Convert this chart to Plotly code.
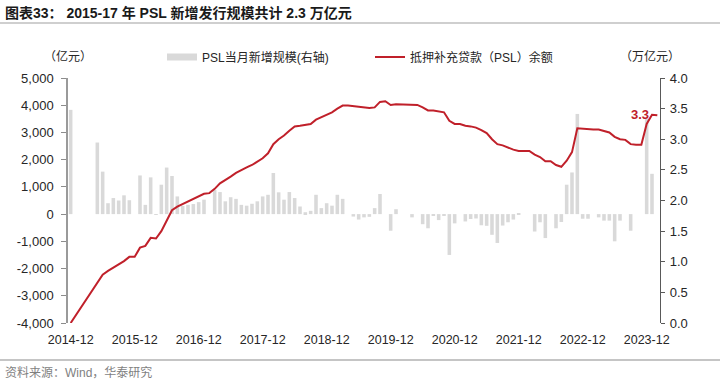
import pandas as pd
import plotly.graph_objects as go

# ---------------- data ----------------
months = [p.strftime("%Y-%m") for p in pd.period_range("2014-12", "2024-02", freq="M")]

# PSL monthly new issuance (亿元, left axis)
psl_new = [
    3830, None, None, None, None, 2630, 1560, 400, 590, 500, 690, 510,      # 2014-12 .. 2015-11
    0, 1420, 340, 1350, -20, 1080, 1710, 1400, 650, 300, 340, 370,         # 2015-12 .. 2016-11
    440, 530, 0, 890, 810, 470, 620, 560, 340, 310, 380, 470,              # 2016-12 .. 2017-11
    650, 710, 1510, 800, 530, 810, 590, 280, 70, 120, 710, 220,            # 2017-12 .. 2018-11
    400, 310, 710, 560, 0, -90, -200, -120, -100, 220, 740, 0,             # 2018-12 .. 2019-11
    -610, 180, 0, 0, -120, 0, -370, -520, -50, -220, -40, -1500,           # 2019-12 .. 2020-11
    -340, 0, -270, -180, -160, -410, -430, -760, -1060, -420, -300, -200,  # 2020-12 .. 2021-11
    40, 0, 0, -640, -300, -880, 0, -520, -290, 1080, 1530, 3680,           # 2021-12 .. 2022-11
    -170, -170, 0, -120, -240, -240, -1000, -240, 0, -610, 0, 0,           # 2022-12 .. 2023-11
    3500, 1480, 0,                                                         # 2023-12 .. 2024-02
]

# PSL outstanding balance (万亿元, right axis)
psl_balance = [
    0.00, None, None, None, None, None, 0.79, 0.85, 0.90, 0.96, 1.01, 1.08,
    1.08, 1.23, 1.26, 1.39, 1.38, 1.50, 1.67, 1.84, 1.90, 1.94, 1.98, 2.02,
    2.06, 2.11, 2.12, 2.19, 2.28, 2.33, 2.39, 2.45, 2.50, 2.54, 2.58, 2.63,
    2.69, 2.77, 2.92, 3.00, 3.06, 3.14, 3.21, 3.22, 3.23, 3.25, 3.32, 3.36,
    3.40, 3.44, 3.50, 3.55, 3.55, 3.54, 3.53, 3.52, 3.51, 3.52, 3.61, 3.62,
    3.56, 3.57, 3.57, 3.57, 3.56, 3.56, 3.52, 3.47, 3.47, 3.45, 3.44, 3.30,
    3.25, 3.25, 3.22, 3.21, 3.19, 3.15, 3.10, 3.00, 2.92, 2.90, 2.86, 2.83,
    2.81, 2.81, 2.81, 2.75, 2.71, 2.64, 2.64, 2.58, 2.55, 2.65, 2.79, 3.18,
    3.17, 3.16, 3.16, 3.16, 3.14, 3.11, 3.04, 3.00, 2.99, 2.92, 2.91, 2.91,
    3.25, 3.40, 3.39,
]

x_tick_vals = ["2014-12", "2015-12", "2016-12", "2017-12", "2018-12",
               "2019-12", "2020-12", "2021-12", "2022-12", "2023-12"]
left_tick_vals = [-4000, -3000, -2000, -1000, 0, 1000, 2000, 3000, 4000, 5000]
left_tick_text = ["-4,000", "-3,000", "-2,000", "-1,000", "0", "1,000", "2,000", "3,000", "4,000", "5,000"]
right_tick_vals = [0, 0.5, 1.0, 1.5, 2.0, 2.5, 3.0, 3.5, 4.0]
right_tick_text = ["0.0", "0.5", "1.0", "1.5", "2.0", "2.5", "3.0", "3.5", "4.0"]
# category boundaries where the year ticks sit on the zero line
year_boundaries = [-0.5, 11.5, 23.5, 35.5, 47.5, 59.5, 71.5, 83.5, 95.5, 107.5]

title_text = "图表33： 2015-17 年 PSL 新增发行规模共计 2.3 万亿元"
bar_name = "PSL当月新增规模(右轴)"
line_name = "抵押补充贷款（PSL）余额"
source_text = "资料来源：Wind，华泰研究"
last_label = "3.3"

# ---------------- style ----------------
FONT = "Liberation Sans, Arial, Noto Sans CJK SC, sans-serif"
TXT = "#262626"
BAR_C = "#d9d9d9"
LINE_C = "#c0202a"

W, H = 720, 381
PLOT_L, PLOT_R, PLOT_T, PLOT_B = 68, 660, 78, 323   # plot area in pixels


def px(p):  # pixel x -> paper x (paper = whole figure, margins are zero)
    return p / W


def py(p):  # pixel y -> paper y
    return (H - p) / H


fig = go.Figure()

fig.add_trace(go.Bar(x=months, y=psl_new, marker=dict(color=BAR_C, line=dict(width=0)),
                     showlegend=False, yaxis="y", xaxis="x"))
# legend entry for bars (wide rectangle like the original)
fig.add_trace(go.Scatter(x=[None], y=[None], mode="lines", name=bar_name,
                         line=dict(color=BAR_C, width=7), yaxis="y", xaxis="x"))
fig.add_trace(go.Scatter(x=months, y=psl_balance, mode="lines", name=line_name,
                         line=dict(color=LINE_C, width=2), connectgaps=True,
                         yaxis="y2", xaxis="x"))

x_dom = [px(PLOT_L), px(PLOT_R)]
y_dom = [py(PLOT_B), py(PLOT_T)]
zero_pos = py(PLOT_B - (PLOT_B - PLOT_T) * 4000 / 9000)

fig.update_layout(
    width=W, height=H,
    margin=dict(l=0, r=0, t=0, b=0, autoexpand=False),
    paper_bgcolor="white", plot_bgcolor="white",
    font=dict(family=FONT, color=TXT, size=12),
    bargap=0.33,
    title=dict(text="<b>" + title_text + "</b>", x=5 / W, xanchor="left",
               y=1 - 13 / H, yanchor="middle", xref="container", yref="container",
               font=dict(size=14, color="#1a1a1a", family=FONT)),
    xaxis=dict(type="category", categoryarray=months, range=[-0.5, len(months) - 0.5],
               domain=x_dom, anchor="y",
               tickvals=x_tick_vals, ticktext=x_tick_vals, ticks="", showline=False,
               showgrid=False, zeroline=False, tickfont=dict(size=12.5, color=TXT),
               ticklabelstandoff=7, automargin=False),
    xaxis2=dict(type="linear", overlaying="x", anchor="free", position=zero_pos,
                domain=x_dom,
                range=[-0.5, len(months) - 0.5], tickvals=year_boundaries,
                showticklabels=False, ticks="outside", ticklen=4, tickcolor="#404040",
                showline=True, linecolor="#404040", linewidth=1, showgrid=False,
                zeroline=False, automargin=False),
    yaxis=dict(range=[-4000, 5000], domain=y_dom, anchor="x",
               tickvals=left_tick_vals, ticktext=left_tick_text,
               ticks="outside", ticklen=5, tickcolor="#8c8c8c", showline=True,
               linecolor="#9a9a9a", linewidth=1.5, showgrid=False, zeroline=False,
               tickfont=dict(size=13, color=TXT), ticklabelstandoff=5, automargin=False),
    yaxis2=dict(range=[0, 4], overlaying="y", side="right", anchor="x",
                tickvals=right_tick_vals,
                ticktext=right_tick_text, ticks="outside", ticklen=4, tickcolor="#595959",
                showline=True, linecolor="#595959", linewidth=1.2, showgrid=False,
                zeroline=False, tickfont=dict(size=13, color=TXT), ticklabelstandoff=2,
                automargin=False),
    legend=dict(orientation="h", x=px(162), xanchor="left", y=py(57), yanchor="middle",
                font=dict(size=12, color=TXT), bgcolor="rgba(0,0,0,0)",
                entrywidth=163, entrywidthmode="pixels", itemwidth=30, tracegroupgap=0),
    showlegend=True,
)

# unit labels
fig.add_annotation(text="（亿元）", xref="paper", yref="paper", x=px(68), y=py(57),
                   xanchor="center", yanchor="middle", showarrow=False,
                   font=dict(size=12, color=TXT))
fig.add_annotation(text="（万亿元）", xref="paper", yref="paper", x=px(650), y=py(57),
                   xanchor="center", yanchor="middle", showarrow=False,
                   font=dict(size=12, color=TXT))
# last value label
fig.add_annotation(text="<b>" + last_label + "</b>", x=months[-2], y=psl_balance[-2],
                   xref="x", yref="y2", xanchor="right", yanchor="middle", xshift=-1,
                   showarrow=False, font=dict(size=13, color=LINE_C))
# source
fig.add_annotation(text=source_text, xref="paper", yref="paper", x=px(3), y=py(372),
                   xanchor="left", yanchor="middle", showarrow=False,
                   font=dict(size=12, color="#7f7f7f"))

# title underline and footer rule (inside the paper area now that margins are zero)
fig.add_shape(type="line", xref="paper", yref="paper", x0=0, x1=1,
              y0=py(23), y1=py(23), layer="above", line=dict(color="#a0a0a0", width=1.2))
fig.add_shape(type="line", xref="paper", yref="paper", x0=0, x1=1,
              y0=py(360), y1=py(360), layer="above", line=dict(color="#8c8c8c", width=1.2))

fig.write_html("out.html", config={"displayModeBar": False},
               post_script="document.body.style.margin='0px';")
